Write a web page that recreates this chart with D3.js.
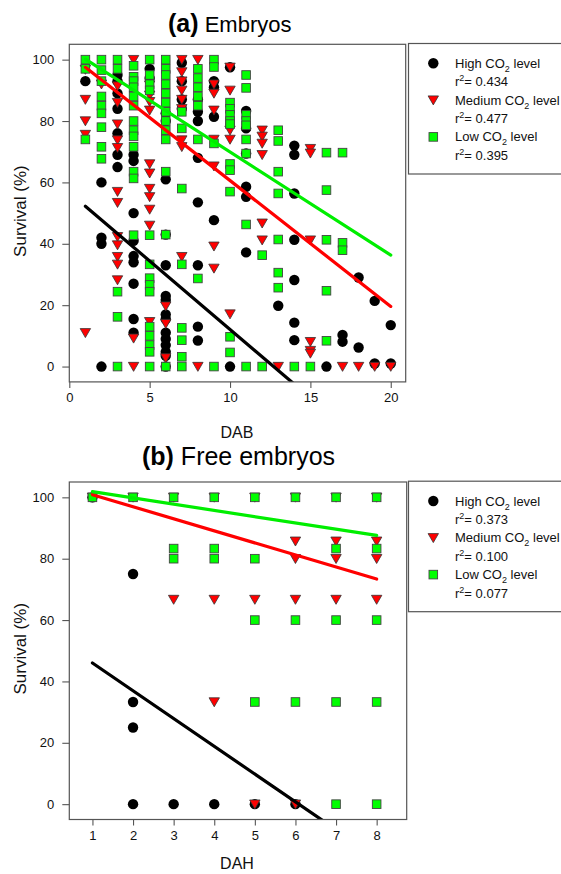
<!DOCTYPE html>
<html>
<head>
<meta charset="utf-8">
<script src="https://cdn.jsdelivr.net/npm/d3@7"></script>
<style>
  body { margin: 0; background: #fff; }
  svg { display: block; font-family: "Liberation Sans", Arial, sans-serif; }
</style>
</head>
<body>
<div id="chart"></div>
<script>
// ---- data (a) Embryos : [DAB, survival %] ----
const embHigh = [
  [1,93],[2,60],[2,42],[2,40],[2,0],
  [3,95],[3,93],[3,89],[3,84],[3,76],[3,69],[3,65],
  [4,69],[4,67],[4,50],[4,41],[4,36],[4,34],[4,27],[4,15.5],[4,11],
  [5,97],[5,94],
  [6,82.5],[6,80],[6,61],[6,43],[6,33],[6,23],[6,21.7],[6,17],[6,15.5],[6,11],[6,9],[6,7],[6,4.8],[6,3.5],[6,0],
  [7,99],[7,93],[7,87],[7,84],
  [8,87],[8,83],[8,80],[8,68],[8,53.5],[8,33],[8,13],[8,8.5],
  [9,93],[9,91],[9,81.4],[9,47.7],
  [10,97.5],[10,0],
  [11,83.3],[11,77.6],[11,69.4],[11,58.6],[11,55.3],[11,37.2],
  [13,19.8],
  [14,72],[14,69],[14,56.4],[14,41.3],[14,28.2],[14,14.3],[14,8.6],
  [16,0],[17,10.3],[17,8.1],[18,29],[18,6.2],[19,21.4],[19,1],[20,13.5],[20,1]
];
const embMedium = [
  [1,96.8],[1,87],[1,80],[1,75.6],[1,11],
  [2,92],
  [3,91.4],[3,86],[3,79],[3,73.8],[3,71.3],[3,57],[3,53.4],[3,42.3],[3,39.6],[3,35.8],[3,33.3],[3,28.2],
  [4,100],[4,9.2],[4,0],
  [5,91.7],[5,88.4],[5,86.3],[5,83.5],[5,66],[5,63],[5,58],[5,55.3],[5,51.2],[5,46],[5,14.6],
  [6,19.7],[6,14],[6,2.8],
  [7,100],[7,96],[7,93],[7,90],[7,87],[7,84],[7,73.8],[7,71.6],[7,35.8],
  [8,100],[8,0],
  [9,92],[9,89],[9,83.5],[9,74],[9,65.3],[9,39.2],[9,32],
  [10,97.5],[10,90],[10,77],[10,74],[10,17.1],
  [12,77],[12,75],[12,72.7],[12,69],[12,46.7],[12,41.2],
  [13,0],
  [15,71],[15,69.5],[15,41.2],[15,8.1],[15,5.2],[15,4.3],
  [17,0],[18,0],[19,0],[20,0]
];
const embLow = [
  [1,100],[1,97],[1,74],
  [2,100],[2,96.6],[2,93],[2,88],[2,85],[2,82.5],[2,78],[2,71.6],[2,67.7],
  [3,100],[3,97],[3,24.4],[3,16.2],[3,0],
  [4,98],[4,94.4],[4,93],[4,91],[4,88],[4,85],[4,80],[4,77],[4,75],[4,71.6],[4,63.5],[4,61.3],[4,42.8],
  [5,100],[5,95],[5,92],[5,90],[5,42.8],[5,33.3],[5,28.8],[5,26.6],[5,24.4],[5,13],[5,10],[5,7],[5,4.8],[5,0],
  [6,100],[6,97],[6,95],[6,92],[6,89],[6,86],[6,83],[6,80],[6,77],[6,74],[6,63.5],[6,43],[6,0],
  [7,83],[7,77.6],[7,58],[7,33.3],[7,12.6],[7,8.6],[7,3.2],[7,0],
  [8,97],[8,94],[8,91],[8,88],[8,85],[8,74],[8,28.7],
  [9,100],[9,97.6],[9,72.7],[9,0],
  [10,86],[10,84],[10,82],[10,80],[10,79],[10,66],[10,64],[10,57],[10,9.7],[10,4.6],
  [11,95],[11,90.8],[11,82],[11,80],[11,78.6],[11,74],[11,69.4],[11,46.3],[11,0],
  [12,36.3],[12,0],
  [13,77],[13,73.5],[13,63.5],[13,56.4],[13,41.4],[13,30.6],[13,25.7],
  [14,0],[15,0],
  [16,69.7],[16,57.5],[16,41.3],[16,24.7],[16,8.4],
  [17,69.7],[17,40.3],[17,37.9]
];
// regression lines: [High, Medium, Low]
const embIntercept = [56.7, 101.6, 103.5];
const embSlope = [-4.46, -4.10, -3.36];
const embR2 = ["0.434", "0.477", "0.395"];
const embTicksX = [0, 5, 10, 15, 20];

// ---- data (b) Free embryos : [DAH, survival %] ----
const freeHigh = [
  [1,100],[2,75],[2,33.3],[2,25],[2,0],[3,0],[4,0],[5,0],[6,0]
];
const freeMedium = [
  [1,100],[2,100],[3,100],[3,66.7],[4,100],[4,66.7],[4,33.3],[5,100],[5,66.7],[5,0],
  [6,100],[6,85.7],[6,80],[6,66.7],[6,0],
  [7,100],[7,85.7],[7,80],[7,66.7],
  [8,100],[8,85.7],[8,80],[8,66.7]
];
const freeLow = [
  [1,100],[2,100],[3,100],[3,83.3],[3,80],[4,100],[4,83.3],[4,80],
  [5,100],[5,80],[5,60],[5,33.3],[6,100],[6,60],[6,33.3],
  [7,100],[7,83.3],[7,60],[7,33.3],[7,0],
  [8,100],[8,83.3],[8,60],[8,33.3],[8,0]
];
const freeIntercept = [55.05, 104.8, 103.9];
const freeSlope = [-9.05, -3.93, -2.04];
const freeR2 = ["0.373", "0.100", "0.077"];
const freeTicksX = [1, 2, 3, 4, 5, 6, 7, 8];

const ticksY = [0, 20, 40, 60, 80, 100];
const seriesNames = ["High", "Medium", "Low"];
const lineColors = ["#000000", "#ff0000", "#00ee00"];

const svg = d3.select("#chart").append("svg")
  .attr("width", 561)
  .attr("height", 874);

const triPath = "M-5.2,-4.2L5.2,-4.2L0,4.8Z";

function drawMarker(g, type, x, y) {
  if (type === 0) {
    g.append("circle").attr("cx", x).attr("cy", y).attr("r", 5.2).attr("fill", "#000");
  } else if (type === 1) {
    g.append("path").attr("d", triPath).attr("transform", `translate(${x},${y})`)
      .attr("fill", "#ff0000").attr("stroke", "#333").attr("stroke-width", 0.8);
  } else {
    g.append("rect").attr("x", x - 4.3).attr("y", y - 4.3).attr("width", 8.6).attr("height", 8.6)
      .attr("fill", "#00ff00").attr("stroke", "#444").attr("stroke-width", 0.9);
  }
}

function panel(opt) {
  const x = d3.scaleLinear().domain(opt.xDomain).range([69.3, opt.right]);
  const y = d3.scaleLinear().domain([-5, 105]).range([opt.bottom, opt.top]);
  const g = svg.append("g");

  const clipId = "clip" + opt.id;
  svg.append("clipPath").attr("id", clipId)
    .append("rect").attr("x", x.range()[0]).attr("y", opt.top)
    .attr("width", opt.right - 69.3).attr("height", opt.bottom - opt.top);

  // points: black, then red, then green on top
  const pts = g.append("g");
  opt.series.forEach((data, i) => {
    data.forEach(d => drawMarker(pts, i, x(d[0]), y(d[1])));
  });

  // regression lines
  const lines = g.append("g").attr("clip-path", `url(#${clipId})`);
  opt.intercept.forEach((b, i) => {
    const xs = opt.lineX;
    lines.append("line")
      .attr("x1", x(xs[0])).attr("y1", y(b + opt.slope[i] * xs[0]))
      .attr("x2", x(xs[1])).attr("y2", y(b + opt.slope[i] * xs[1]))
      .attr("stroke", lineColors[i]).attr("stroke-width", 3.2)
      .attr("stroke-linecap", "round");
  });

  // frame
  g.append("rect")
    .attr("x", 69.3).attr("y", opt.top)
    .attr("width", opt.right - 69.3).attr("height", opt.bottom - opt.top)
    .attr("fill", "none").attr("stroke", "#555").attr("stroke-width", 1.2);

  // axes
  const xAxis = d3.axisBottom(x).tickValues(opt.ticksX).tickSize(6).tickPadding(5).tickSizeOuter(0);
  const yAxis = d3.axisLeft(y).tickValues(ticksY).tickSize(7).tickPadding(8).tickSizeOuter(0);
  const ax = g.append("g").attr("transform", `translate(0,${opt.bottom})`).call(xAxis);
  const ay = g.append("g").attr("transform", `translate(69.3,0)`).call(yAxis);
  [ax, ay].forEach(a => {
    a.select(".domain").remove();
    a.selectAll("line").attr("stroke", "#555").attr("stroke-width", 1.1);
    a.selectAll("text").attr("font-size", 13).attr("fill", "#111")
      .attr("font-family", "Liberation Sans, Arial, sans-serif");
  });

  // axis titles
  svg.append("text")
    .attr("transform", `translate(${opt.yLabelX},${(opt.top + opt.bottom) / 2 - 2}) rotate(-90)`)
    .attr("text-anchor", "middle").attr("font-size", 17).attr("fill", "#111")
    .text("Survival (%)");
  svg.append("text")
    .attr("x", 237).attr("y", opt.xLabelY)
    .attr("text-anchor", "middle").attr("font-size", 16).attr("fill", "#111")
    .text(opt.xLabel);

  // title
  const t = svg.append("text").attr("x", opt.titleX).attr("y", opt.titleY).attr("fill", "#000");
  t.append("tspan").attr("font-weight", "bold").attr("font-size", opt.titleBold).text(opt.tag);
  t.append("tspan").attr("font-size", opt.titleSize).text(" " + opt.title);

  // legend
  const lg = svg.append("g");
  lg.append("rect")
    .attr("x", 408.5).attr("y", opt.top - 0.8)
    .attr("width", 160).attr("height", 130.5)
    .attr("fill", "#fff").attr("stroke", "#555").attr("stroke-width", 1.2);
  seriesNames.forEach((name, i) => {
    const cy = opt.top + 19 + i * 36.8;
    drawMarker(lg, i, 433.3, cy);
    const tx = lg.append("text").attr("x", 455).attr("y", cy + 4.5)
      .attr("font-size", 13).attr("fill", "#111");
    tx.append("tspan").text(name + " CO");
    tx.append("tspan").attr("dy", 4).attr("font-size", 9).text("2");
    tx.append("tspan").attr("dy", -4).text(" level");
    const tr = lg.append("text").attr("x", 455).attr("y", cy + 23)
      .attr("font-size", 13).attr("fill", "#111");
    tr.append("tspan").text("r");
    tr.append("tspan").attr("dy", -5).attr("font-size", 9).text("2");
    tr.append("tspan").attr("dy", 5).text("= " + opt.r2[i]);
  });
}

panel({
  id: "a", top: 44.3, bottom: 381.9, right: 405.7, xDomain: [0, 20.93],
  series: [embHigh, embMedium, embLow], intercept: embIntercept, slope: embSlope,
  lineX: [1, 20], ticksX: embTicksX, r2: embR2,
  xLabel: "DAB", xLabelY: 438, yLabelX: 26,
  tag: "(a)", title: "Embryos", titleX: 168, titleY: 32, titleBold: 25, titleSize: 22
});

panel({
  id: "b", top: 482, bottom: 819.5, right: 406.7, xDomain: [0.43, 8.74],
  series: [freeHigh, freeMedium, freeLow], intercept: freeIntercept, slope: freeSlope,
  lineX: [1, 8], ticksX: freeTicksX, r2: freeR2,
  xLabel: "DAH", xLabelY: 869, yLabelX: 26,
  tag: "(b)", title: "Free embryos", titleX: 142, titleY: 465, titleBold: 25, titleSize: 25
});
</script>
</body>
</html>
